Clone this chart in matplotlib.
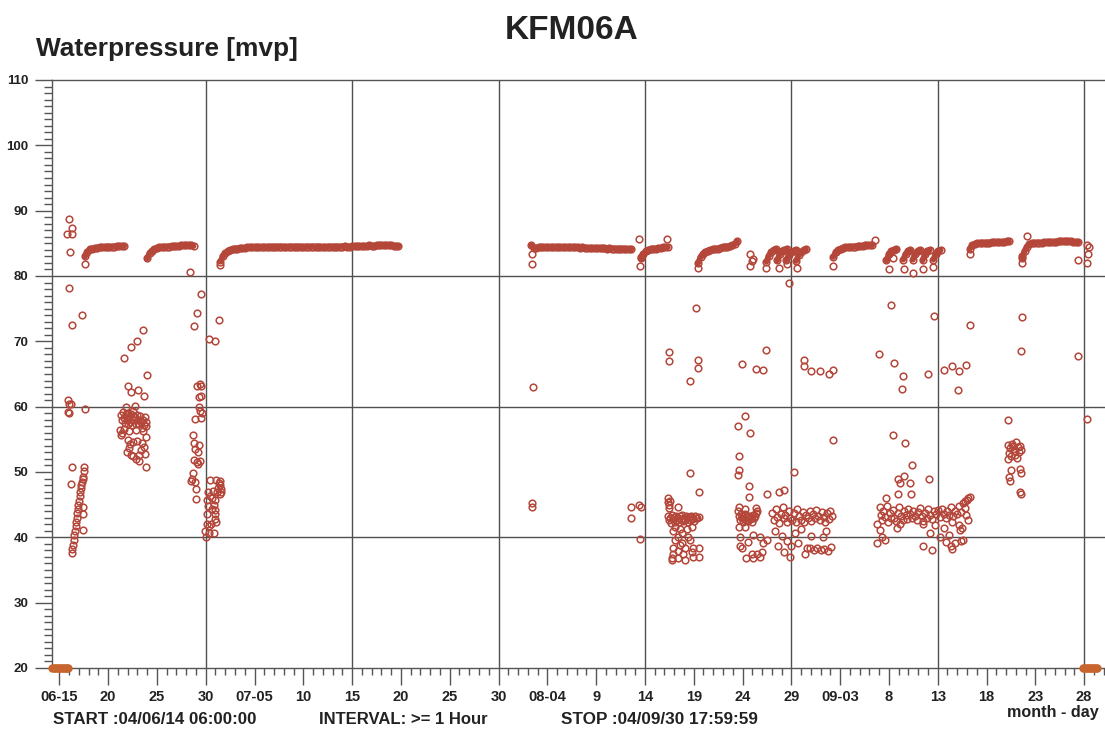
import numpy as np
import matplotlib.pyplot as plt

plt.rcParams['font.family'] = ['Liberation Sans', 'DejaVu Sans']

# time axis: days since 2004-06-01 00:00, sampling step of the plotted curves
step = 0.25

# recovery curves (start day, values every `step` days)
c1_start = 16.63
c1_vals = [83.0, 83.7, 84.1, 84.2, 84.3, 84.3, 84.4, 84.4, 84.4, 84.5, 84.5, 84.5, 84.5, 84.6, 84.6, 84.6, 84.6]
c2_start = 23.0
c2_vals = [82.7, 83.5, 83.9, 84.1, 84.3, 84.4, 84.4, 84.5, 84.5, 84.5, 84.6, 84.6, 84.6, 84.6, 84.7, 84.7,
           84.7, 84.7, 84.7, 84.6]
c3_start = 30.5
c3_vals = [82.2, 83.0, 83.5, 83.8, 84.0, 84.1, 84.2, 84.2, 84.3, 84.3,
           84.3, 84.4, 84.4, 84.4, 84.4, 84.4, 84.4, 84.4, 84.5, 84.4,
           84.5, 84.5, 84.4, 84.5, 84.5, 84.5, 84.5, 84.4, 84.5, 84.5,
           84.5, 84.5, 84.5, 84.5, 84.4, 84.5, 84.5, 84.5, 84.5, 84.5,
           84.5, 84.5, 84.4, 84.4, 84.5, 84.5, 84.5, 84.5, 84.5, 84.5,
           84.5, 84.6, 84.5, 84.5, 84.6, 84.6, 84.6, 84.6, 84.6, 84.6,
           84.6, 84.7, 84.6, 84.6, 84.7, 84.7, 84.7, 84.7, 84.7, 84.7,
           84.7, 84.6, 84.6, 84.6]
c4_start = 62.35
c4_vals = [84.7, 84.3, 84.3, 84.4, 84.4, 84.4, 84.4, 84.4, 84.4, 84.4,
           84.4, 84.4, 84.4, 84.4, 84.4, 84.4, 84.4, 84.4, 84.4, 84.4,
           84.3, 84.4, 84.3, 84.3, 84.3, 84.3, 84.3, 84.3, 84.3, 84.3,
           84.3, 84.2, 84.3, 84.2, 84.2, 84.2, 84.2, 84.2, 84.2, 84.1,
           84.1, 84.1]
c5_start = 73.6
c5_vals = [82.7, 83.4, 83.8, 84.0, 84.1, 84.2, 84.2, 84.3, 84.3, 84.4, 84.4, 84.4]
c6_start = 79.45
c6_vals = [82.0, 82.9, 83.4, 83.7, 83.9, 84.0, 84.1, 84.2, 84.2, 84.3, 84.4, 84.5, 84.5, 84.6, 84.7, 84.9, 85.3]
h1_start, h1_vals = 86.45, [82.2, 83.1, 83.7, 84.0, 84.1]
h2_start, h2_vals = 87.55, [82.4, 83.3, 83.8, 84.0, 84.1]
h3_start, h3_vals = 88.5, [82.4, 83.2, 83.7, 83.9, 84.0]
h4_start, h4_vals = 89.5, [82.3, 83.2, 83.7, 84.0, 84.1]
c7_start = 93.3
c7_vals = [82.9, 83.6, 84.0, 84.2, 84.3, 84.4, 84.4, 84.5, 84.5, 84.5, 84.6, 84.6, 84.6, 84.7, 84.7, 84.7, 84.8]
s1_start, s1_vals = 98.75, [82.4, 83.3, 83.8, 84.0, 84.1]
s2_start, s2_vals = 100.45, [82.5, 83.3, 83.8, 84.0]
s3_start, s3_vals = 101.45, [82.5, 83.4, 83.8, 84.0]
s4_start, s4_vals = 102.45, [82.4, 83.3, 83.8, 84.0]
s5_start, s5_vals = 103.55, [82.5, 83.4, 83.9, 84.0]
c8_start = 107.3
c8_vals = [84.2, 84.7, 84.9, 85.0, 85.0, 85.1, 85.1, 85.1, 85.1, 85.2, 85.2, 85.2, 85.2, 85.2, 85.2, 85.3, 85.3]
c9_start = 112.65
c9_vals = [82.8, 83.8, 84.5, 84.9, 85.0, 85.1, 85.1, 85.1, 85.1, 85.2, 85.2, 85.2, 85.2, 85.2, 85.2, 85.3,
           85.3, 85.3, 85.3, 85.3, 85.3, 85.2, 85.2, 85.2]

curves = [(c1_start, c1_vals), (c2_start, c2_vals), (c3_start, c3_vals), (c4_start, c4_vals),
          (c5_start, c5_vals), (c6_start, c6_vals), (h1_start, h1_vals), (h2_start, h2_vals),
          (h3_start, h3_vals), (h4_start, h4_vals), (c7_start, c7_vals), (s1_start, s1_vals),
          (s2_start, s2_vals), (s3_start, s3_vals), (s4_start, s4_vals), (s5_start, s5_vals),
          (c8_start, c8_vals), (c9_start, c9_vals)]

# scattered readings (day, value)
june_early = [(14.8, 86.5), (15.0, 88.7), (15.3, 87.4), (15.25, 86.5), (15.1, 83.6), (15.0, 78.2),
              (15.35, 72.5), (16.3, 74.1), (16.65, 81.9), (14.85, 61.0), (14.95, 60.4), (15.15, 60.4),
              (14.9, 59.2), (14.95, 59.0), (16.6, 59.6), (15.3, 50.7), (15.2, 48.2), (16.5, 50.7),
              (15.30, 37.6), (15.35, 38.2), (15.42, 38.9), (15.48, 39.6), (15.55, 40.3), (15.6, 41.0),
              (15.66, 41.7), (15.72, 42.3), (15.78, 43.0), (15.84, 43.7), (15.9, 44.3), (15.96, 45.0),
              (16.02, 45.6), (16.08, 46.3), (16.14, 46.9), (16.2, 47.5), (16.26, 48.0), (16.32, 48.5),
              (16.38, 48.9), (16.44, 49.2), (16.45, 44.7), (16.45, 43.5), (16.4, 41.1), (16.55, 50.2)]
june_mid = [(20.66, 67.4), (21.3, 69.1), (21.93, 70.0), (22.6, 71.8), (22.95, 64.9), (21.07, 63.1),
            (21.3, 62.2), (22.03, 62.5), (22.68, 61.6), (20.8, 60.0), (21.75, 60.1),
            (20.3, 58.8), (20.45, 57.9), (20.55, 59.2), (20.6, 58.3), (20.7, 57.5), (20.8, 58.9),
            (20.9, 58.0), (21.0, 57.3), (21.05, 59.0), (21.15, 58.4), (21.2, 57.7), (21.3, 58.9),
            (21.4, 58.1), (21.45, 57.2), (21.55, 58.6), (21.6, 59.3), (21.7, 57.9), (21.8, 58.4),
            (21.9, 57.4), (22.0, 58.8), (22.1, 58.0), (22.2, 57.3), (22.3, 58.5), (22.4, 57.6),
            (22.5, 56.8), (22.6, 57.9), (22.7, 57.2), (22.8, 58.4), (22.9, 57.7), (20.25, 56.4),
            (20.4, 56.0), (20.6, 56.6), (21.1, 56.2), (21.9, 56.5), (22.55, 56.2), (22.85, 57.0),
            (20.35, 55.6), (21.0, 54.9), (21.2, 54.3), (21.5, 54.6), (21.95, 54.8), (22.5, 54.4),
            (22.85, 55.3), (22.65, 53.9), (21.1, 53.7), (21.3, 52.6), (21.55, 52.4), (22.2, 52.6),
            (22.75, 52.8), (20.9, 53.0), (22.15, 51.7), (22.9, 50.7), (21.85, 52.0), (22.4, 53.3)]
june_late = [(27.39, 80.6), (28.52, 77.3), (28.08, 74.4), (27.8, 72.4), (30.4, 73.2), (29.35, 70.3),
             (29.95, 70.0), (30.47, 81.7), (28.1, 63.2), (28.4, 63.4), (28.5, 63.2), (28.3, 61.5),
             (28.55, 61.6), (28.3, 60.0), (28.45, 59.4), (28.6, 59.1), (27.95, 58.1), (28.55, 58.2),
             (27.65, 55.7), (27.8, 54.4), (28.3, 54.2), (27.95, 53.5), (28.25, 53.1), (27.8, 51.9),
             (28.15, 51.5), (28.4, 51.7), (28.2, 51.2), (27.7, 49.8), (27.6, 49.0), (27.9, 48.5),
             (27.5, 48.6), (28.0, 47.4), (28.05, 45.9), (29.4, 48.7), (30.1, 48.8), (30.4, 48.3),
             (30.55, 47.0), (30.15, 47.0), (29.75, 47.1), (29.25, 47.0), (29.1, 45.7), (29.6, 46.0),
             (29.95, 45.7), (29.8, 45.0), (29.6, 44.4), (29.95, 44.2), (29.1, 43.6), (29.95, 42.8),
             (30.1, 42.4), (29.1, 42.0), (29.3, 41.7), (29.5, 42.0), (28.95, 40.9), (29.3, 40.6),
             (29.8, 40.7), (29.0, 40.0), (30.5, 48.0), (30.3, 47.6), (30.6, 47.4), (30.45, 46.6),
             (29.45, 46.4), (30.5, 48.6), (30.0, 43.5), (29.2, 44.8)]
august = [(62.57, 63.0), (62.4, 83.3), (62.4, 81.9), (62.45, 45.3), (62.45, 44.7), (72.6, 44.7),
          (73.4, 44.9), (73.55, 44.6), (72.6, 43.0), (73.5, 39.7), (73.43, 85.7), (73.6, 82.9),
          (73.5, 81.5), (76.3, 85.7), (76.5, 68.3), (76.5, 67.0), (79.2, 75.1), (79.45, 67.2),
          (79.45, 65.9), (78.6, 63.9), (79.4, 81.3), (78.6, 49.8), (79.5, 47.0), (84.8, 83.4),
          (85.1, 82.6), (85.0, 82.3), (84.8, 81.5), (83.9, 66.6), (85.4, 65.8), (86.1, 65.6),
          (86.4, 68.7), (90.25, 67.1), (90.3, 66.3), (91.0, 65.5), (91.9, 65.5), (92.85, 65.0),
          (93.3, 65.6), (84.25, 58.6), (83.55, 57.1), (84.8, 56.0), (83.6, 52.4), (83.6, 50.3),
          (83.55, 49.5), (84.7, 47.8), (84.7, 46.2), (86.5, 46.6), (87.7, 46.9), (88.3, 47.2),
          (89.3, 50.0), (88.8, 79.0), (86.45, 81.2), (87.7, 81.2), (88.6, 81.9), (89.6, 81.2),
          (93.3, 81.6), (93.3, 54.9), (97.55, 85.5)]
aug_low = [(76.35, 46.0), (76.4, 45.4), (76.45, 44.9), (76.5, 44.5), (77.4, 44.6), (76.6, 45.5),
           (76.4, 43.2), (76.5, 42.6), (76.6, 43.0), (76.7, 42.2), (76.8, 43.4), (76.9, 42.8),
           (77.0, 43.1), (77.1, 42.4), (77.2, 43.3), (77.3, 42.7), (77.4, 43.0), (77.5, 42.3),
           (77.6, 43.2), (77.7, 42.8), (77.8, 43.4), (77.9, 42.5), (78.0, 43.0), (78.1, 42.6),
           (78.2, 43.3), (78.3, 42.9), (78.4, 42.4), (78.5, 43.1), (78.6, 42.7), (78.7, 43.3),
           (78.8, 42.8), (78.9, 43.0), (79.0, 42.5), (79.1, 43.2), (79.2, 42.9), (79.35, 43.0),
           (79.5, 43.1), (77.1, 41.6), (77.6, 41.3), (78.3, 41.3), (78.8, 41.6), (76.9, 40.9),
           (77.8, 40.7), (78.45, 40.1), (77.4, 40.1), (77.1, 39.6), (78.6, 39.6), (77.8, 39.1),
           (76.9, 38.3), (77.4, 37.9), (78.1, 38.3), (78.95, 38.3), (79.5, 38.3), (76.9, 37.5),
           (77.9, 37.5), (78.8, 37.8), (76.75, 36.5), (77.4, 36.9), (78.1, 36.5), (78.95, 37.0),
           (79.5, 37.0), (76.8, 36.8), (77.6, 38.8),
           (83.55, 44.0), (83.6, 43.2), (83.7, 42.6), (83.8, 43.6), (83.9, 42.9), (84.0, 43.3),
           (84.1, 42.4), (84.2, 43.0), (84.3, 43.5), (84.4, 42.7), (84.5, 43.1), (84.6, 42.5),
           (84.7, 43.3), (84.8, 42.8), (84.9, 43.0), (85.0, 42.3), (85.1, 43.4), (85.2, 42.9),
           (85.3, 43.2), (85.4, 43.7), (85.5, 44.1), (83.65, 44.6), (84.25, 44.3), (85.35, 44.5),
           (83.67, 41.6), (84.25, 41.6), (83.74, 40.1), (84.6, 39.3), (85.1, 40.4), (85.8, 40.1),
           (86.15, 39.1), (85.97, 37.8), (85.45, 37.5), (84.94, 37.5), (84.4, 36.8), (85.1, 36.8),
           (85.8, 37.0), (83.9, 38.3), (83.74, 38.6), (86.5, 39.6),
           (87.0, 43.8), (87.2, 42.6), (87.4, 44.4), (87.5, 43.1), (87.7, 42.2), (87.9, 43.6),
           (88.1, 44.7), (88.2, 42.9), (88.4, 43.4), (88.6, 42.4), (88.8, 44.1), (88.9, 43.0),
           (89.1, 42.6), (89.3, 43.8), (89.5, 42.3), (89.6, 44.3), (89.8, 43.2), (90.0, 42.7),
           (90.2, 43.9), (90.3, 42.4), (90.5, 43.4), (90.7, 42.9), (90.9, 44.0), (91.0, 42.5),
           (91.2, 43.6), (91.4, 42.9), (91.5, 44.2), (91.7, 43.2), (91.9, 42.6), (92.1, 43.9),
           (92.3, 43.1), (92.5, 42.4), (92.7, 43.7), (92.9, 42.8), (93.0, 44.1), (93.2, 43.3),
           (87.3, 41.0), (88.0, 40.2), (88.6, 39.5), (87.6, 38.7), (88.3, 37.8), (89.0, 38.6),
           (89.4, 40.6), (90.0, 41.2), (89.7, 39.1), (90.6, 38.3), (90.9, 38.3), (91.3, 38.0),
           (91.6, 38.4), (92.0, 38.1), (92.4, 38.2), (92.8, 37.9), (93.1, 38.5), (91.0, 40.2),
           (92.2, 40.0), (90.4, 37.5), (92.6, 41.0), (88.9, 37.0)]
september = [(99.0, 81.0), (99.4, 82.8), (100.5, 81.0), (101.5, 80.4), (102.5, 81.0), (103.5, 81.4),
             (99.2, 75.5), (103.6, 73.9), (107.3, 72.5), (98.0, 68.0), (99.55, 66.7), (100.4, 64.7),
             (100.3, 62.7), (103.0, 65.0), (104.65, 65.6), (105.5, 66.2), (106.15, 65.4),
             (106.85, 66.4), (106.1, 62.6), (99.4, 55.6), (100.65, 54.5), (101.4, 51.0), (103.1, 49.0),
             (99.96, 49.0), (100.1, 48.3), (101.2, 48.3), (100.5, 49.4), (99.9, 46.6), (101.3, 46.6),
             (98.7, 46.0), (107.3, 83.4), (112.6, 82.0), (112.6, 83.0), (113.1, 86.1), (118.35, 82.4),
             (119.3, 84.8), (119.45, 84.4), (119.35, 83.4), (119.3, 82.0), (112.6, 73.7),
             (112.55, 68.5), (118.35, 67.8), (111.2, 57.9), (119.3, 58.1),
             (111.2, 54.2), (111.4, 53.6), (111.6, 54.3), (111.8, 53.2), (112.0, 54.6), (112.2, 53.8),
             (112.4, 54.0), (111.3, 52.9), (111.5, 52.4), (111.9, 52.6), (112.1, 52.2), (112.3, 53.0),
             (111.7, 54.0), (112.5, 53.4), (111.2, 52.0), (111.5, 50.3), (112.45, 50.4),
             (112.5, 49.9), (111.35, 49.2), (111.45, 48.6), (112.45, 47.0), (112.5, 46.6)]
sep_low = [(98.1, 44.6), (98.2, 43.4), (98.3, 42.6), (98.4, 44.0), (98.6, 43.1), (98.8, 44.8),
           (98.9, 42.4), (99.1, 43.7), (99.2, 42.9), (99.4, 44.2), (99.5, 43.0), (99.7, 42.5),
           (99.9, 43.8), (100.0, 44.6), (100.2, 43.2), (100.4, 42.7), (100.5, 44.0), (100.7, 43.4),
           (100.9, 42.8), (101.0, 44.4), (101.2, 43.6), (101.4, 42.9), (101.5, 44.1), (101.7, 43.3),
           (101.9, 42.6), (102.0, 43.9), (102.2, 44.5), (102.4, 43.2), (102.5, 42.5), (102.7, 43.8),
           (102.9, 43.0), (103.0, 44.3), (103.2, 43.4), (103.4, 42.8), (103.6, 44.0), (103.8, 43.5),
           (104.0, 44.2), (104.2, 43.1), (104.4, 44.4), (104.6, 43.6), (104.8, 42.9), (105.0, 44.0),
           (105.2, 43.4), (105.4, 44.6), (105.6, 43.2), (105.8, 44.1), (106.0, 43.6), (106.2, 44.8),
           (106.4, 43.9), (106.6, 45.3), (106.8, 44.5), (107.0, 45.7), (107.1, 46.0), (106.9, 43.4),
           (105.5, 42.4), (97.75, 42.1), (98.1, 41.1), (98.3, 40.1), (97.75, 39.1), (98.6, 39.6),
           (99.8, 41.4), (100.15, 42.1), (102.5, 42.1), (103.2, 40.6), (103.7, 41.9), (104.25, 40.1),
           (104.9, 39.3), (105.4, 38.6), (105.8, 39.1), (106.3, 41.1), (106.6, 39.6), (102.5, 38.6),
           (103.4, 38.1), (104.6, 41.4), (105.5, 38.2), (106.4, 39.4), (107.1, 42.6), (107.3, 46.2),
           (106.8, 45.6), (106.2, 41.9), (106.5, 41.4), (105.2, 40.3)]

# readings at the lower limit (20 mvp)
limit_days = [13.3, 13.45, 13.6, 13.75, 13.9, 14.05, 14.2, 14.35, 14.5, 14.65, 14.8, 14.92,
              118.85, 119.0, 119.15, 119.3, 119.45, 119.6, 119.75, 119.9, 120.05, 120.2, 120.35]
limit_vals = [20.0] * len(limit_days)

xtick_days = [14, 19, 24, 29, 34, 39, 44, 49, 54, 59, 64, 69, 74, 79, 84, 89, 94, 99, 104, 109, 114, 119]
xtick_labels = ['06-15', '20', '25', '30', '07-05', '10', '15', '20', '25', '30', '08-04', '9', '14',
                '19', '24', '29', '09-03', '8', '13', '18', '23', '28']
vgrid_days = [29, 44, 59, 74, 89, 104, 119]
hgrid_vals = [40, 60, 80]

red = '#b4463a'
orange = '#c8642d'
axcol = '#555555'
txtcol = '#222222'

fig = plt.figure(figsize=(11.05, 7.29), dpi=100)
ax = fig.add_axes([52 / 1105, 1 - 668 / 729, 1 - 52 / 1105, (668 - 80) / 729])

for d in vgrid_days:
    ax.axvline(d, color='#505050', lw=1, zorder=1)
for v in hgrid_vals:
    ax.axhline(v, color='#505050', lw=1, zorder=1)

# hourly readings overlap into a solid band
for start, vals in curves:
    t = start + step * np.arange(len(vals))
    ax.plot(t, vals, '-', color=red, lw=4.2, solid_capstyle='round', zorder=2)
    ax.plot(t, vals, 'o', mfc='none', mec=red, ms=4.8, mew=1.1, zorder=3)

for group in [june_early, june_mid, june_late, august, aug_low, september, sep_low]:
    arr = np.array(group)
    ax.plot(arr[:, 0], arr[:, 1], 'o', mfc='none', mec=red, ms=4.8, mew=1.1, zorder=3)

ax.plot(limit_days, limit_vals, 'o', color=orange, ms=6, mew=0, zorder=4, clip_on=False)

ax.set_xlim(13.25, 121.14)
ax.set_ylim(20, 110)

ax.set_xticks(xtick_days)
ax.set_xticklabels(xtick_labels, fontsize=10.5, fontweight='bold', color=txtcol)
ax.set_xticks(np.arange(14, 122), minor=True)
ax.set_yticks(np.arange(20, 111, 10))
ax.set_yticklabels([str(v) for v in range(20, 111, 10)], fontsize=9.5, fontweight='bold', color=txtcol)
ax.set_yticks(np.arange(20, 111, 1), minor=True)

ax.tick_params(axis='x', which='major', length=12, width=1, color=axcol, pad=4)
ax.tick_params(axis='x', which='minor', length=5, width=1, color=axcol)
ax.tick_params(axis='y', which='major', length=12, width=1, color=axcol, pad=5)
ax.tick_params(axis='y', which='minor', length=6, width=1, color=axcol)

ax.spines['right'].set_visible(False)
for s in ['left', 'bottom', 'top']:
    ax.spines[s].set_color(axcol)
    ax.spines[s].set_linewidth(1)

fig.text(0.517, 0.958, 'KFM06A', ha='center', va='center', fontsize=24, fontweight='bold', color=txtcol)
fig.text(36 / 1105, 1 - 56 / 729, 'Waterpressure [mvp]', ha='left', va='baseline', fontsize=18.9,
         fontweight='bold', color=txtcol)
fig.text(53 / 1105, 1 - 719 / 729, 'START :04/06/14 06:00:00', ha='left', va='center', fontsize=12.2,
         fontweight='bold', color=txtcol)
fig.text(319 / 1105, 1 - 719 / 729, 'INTERVAL: >= 1 Hour', ha='left', va='center', fontsize=12,
         fontweight='bold', color=txtcol)
fig.text(561 / 1105, 1 - 719 / 729, 'STOP :04/09/30 17:59:59', ha='left', va='center', fontsize=12.3,
         fontweight='bold', color=txtcol)
fig.text(1099 / 1105, 1 - 713 / 729, 'month - day', ha='right', va='center', fontsize=11.6,
         fontweight='bold', color=txtcol)

plt.savefig('out.png', dpi=100)
